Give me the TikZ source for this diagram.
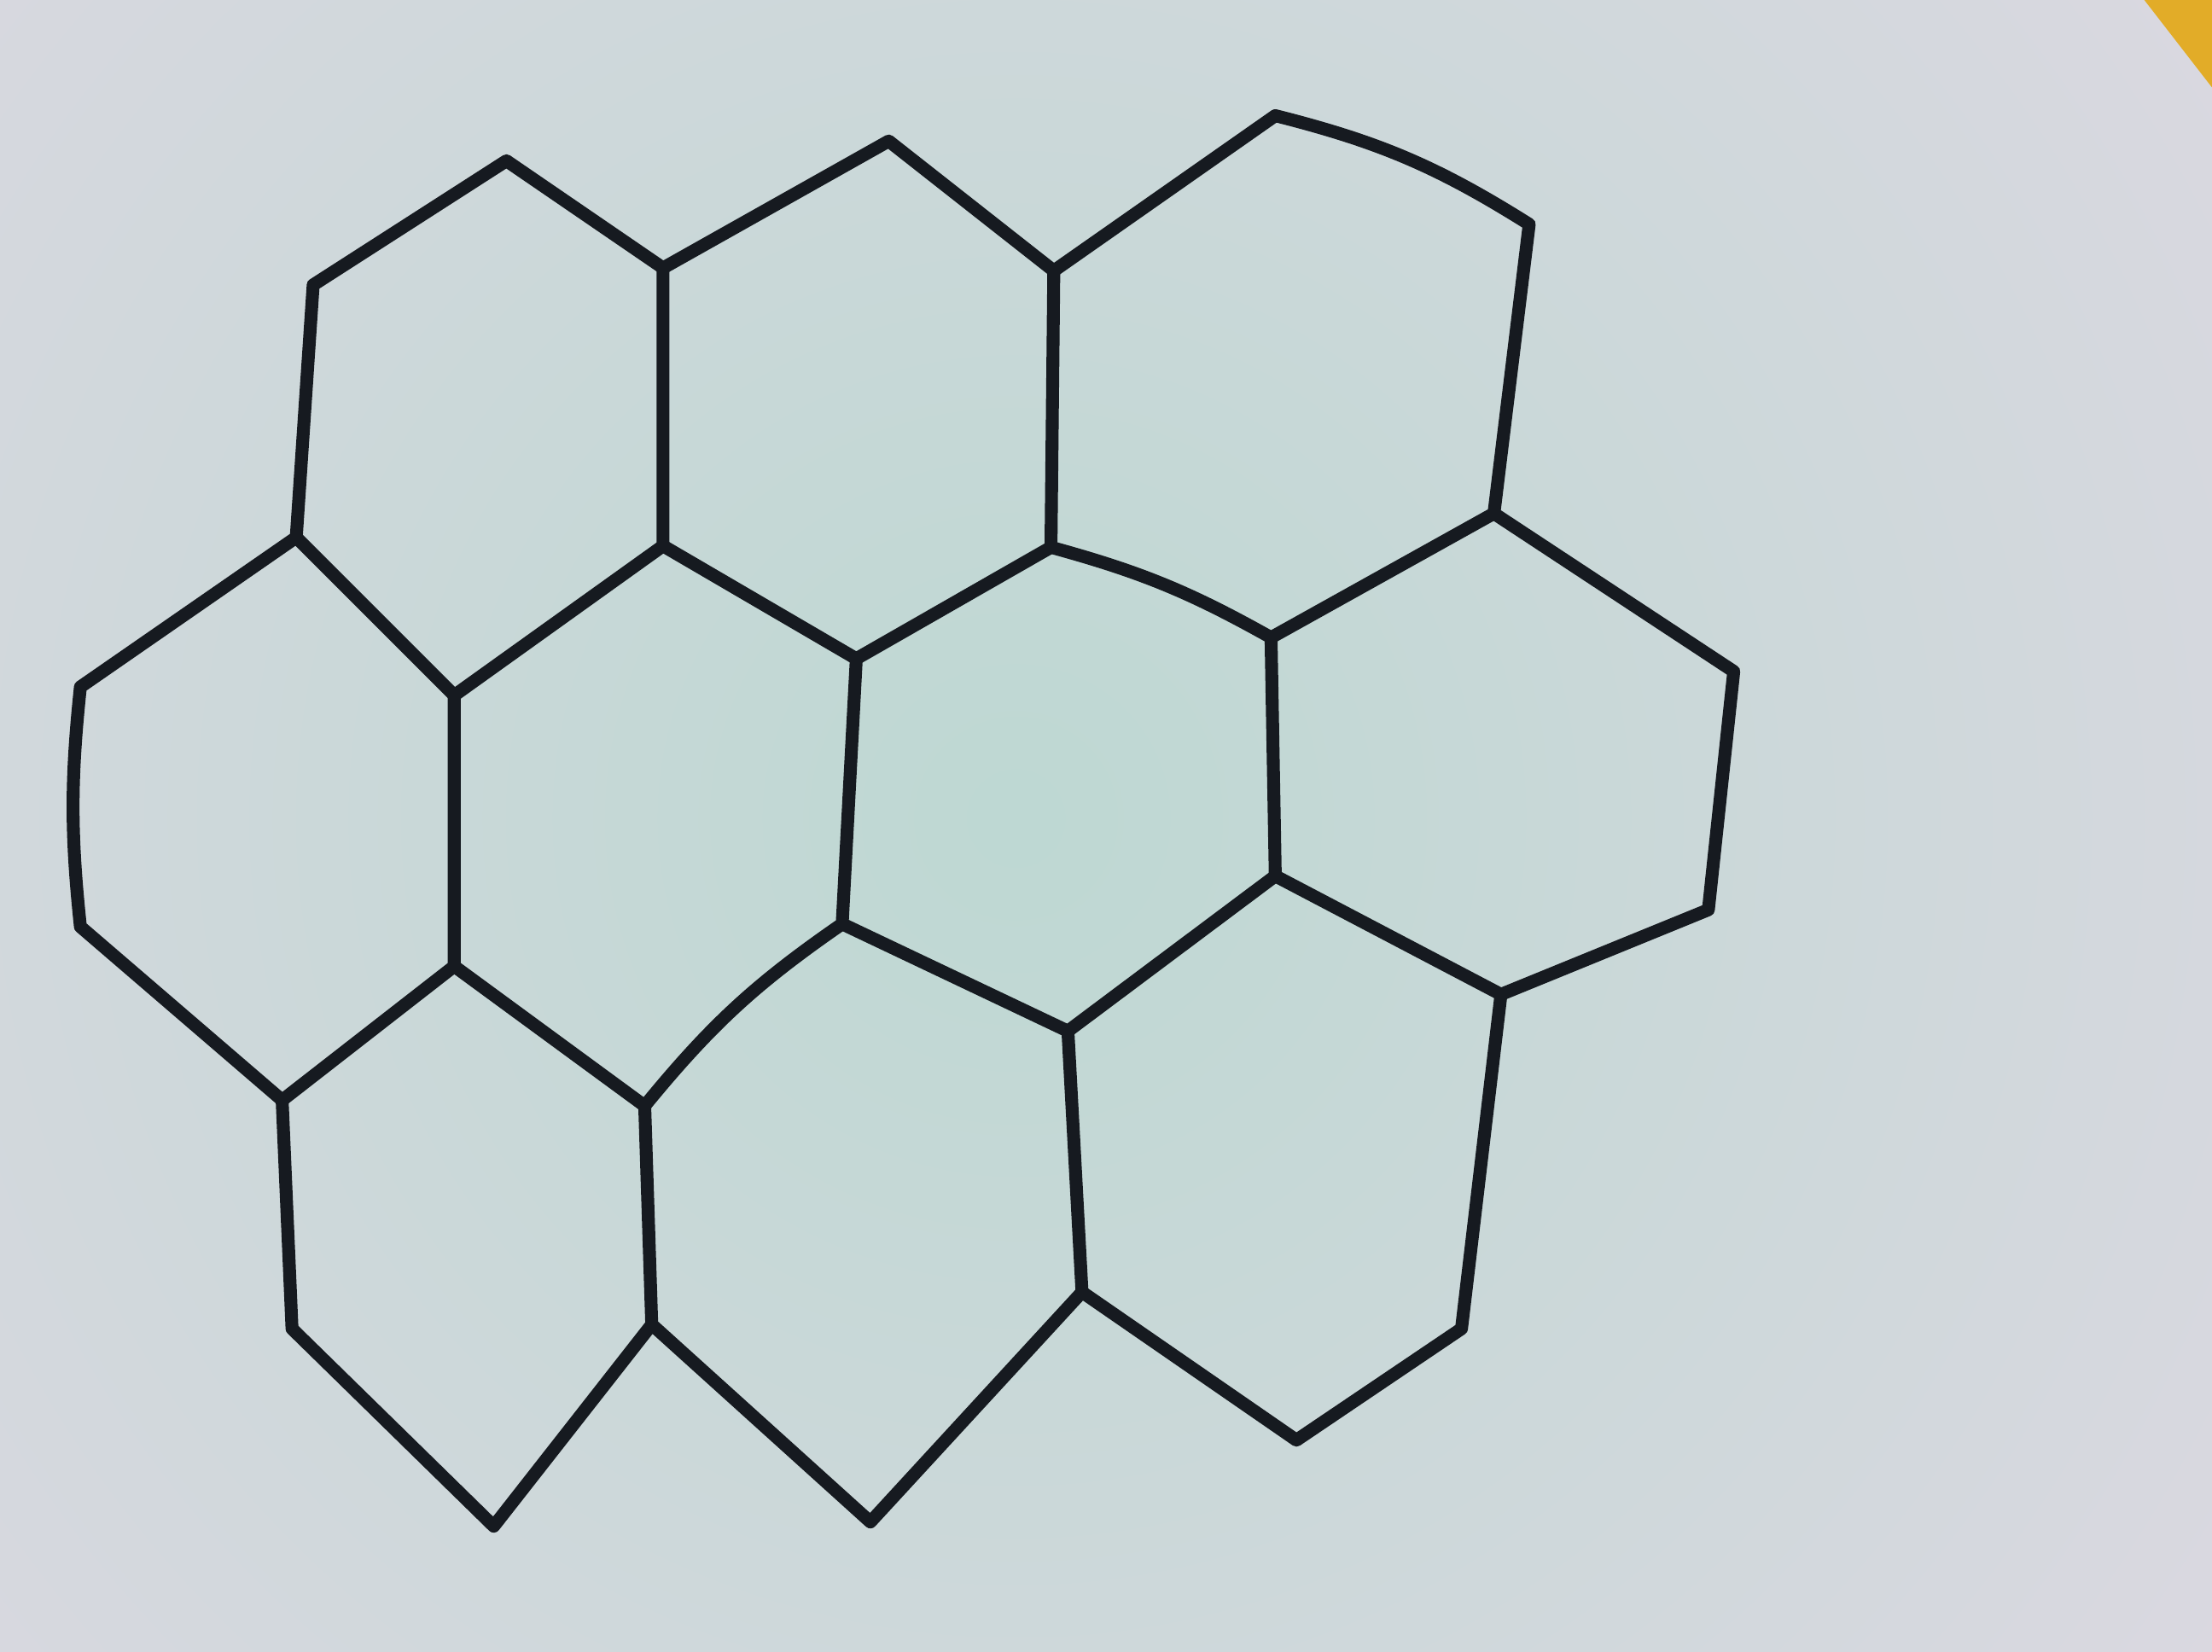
\documentclass[tikz,border=0pt]{standalone}
\usetikzlibrary{fadings}
\tikzfading[name=softglow, inner color=transparent!0, outer color=transparent!100]
\definecolor{paper}{RGB}{219,217,225}
\definecolor{tint}{RGB}{190,216,211}
\definecolor{ink}{RGB}{22,26,32}
\definecolor{tape}{RGB}{226,172,40}
\begin{document}
\begin{tikzpicture}[x=0.01cm,y=-0.01cm,
  edge/.style={draw=ink,line width=2.6pt,line join=round,line cap=round}]
\useasboundingbox (0,0) rectangle (1568,1171);
\fill[paper] (0,0) rectangle (1568,1171);
\begin{scope}
  \clip (0,0) rectangle (1568,1171);
  \fill[tint, path fading=softglow] (720,580) circle (1050);
  \fill[tape] (1520,0) -- (1568,0) -- (1568,62) -- cycle;
\end{scope}
% vertices
\coordinate (a1) at (359,114);
\coordinate (a2) at (222,202);
\coordinate (v1) at (470,190);
\coordinate (b1) at (630,100);
\coordinate (v2) at (747,192);
\coordinate (c1) at (904,82);
\coordinate (c2) at (1084,159);
\coordinate (v3) at (1059,364);
\coordinate (v4) at (901,452);
\coordinate (v5) at (745,388);
\coordinate (v6) at (607,467);
\coordinate (v7) at (470,387);
\coordinate (v8) at (322,493);
\coordinate (v9) at (210,381);
\coordinate (d1) at (57,487);
\coordinate (d2) at (57,657);
\coordinate (v10) at (200,780);
\coordinate (v11) at (322,685);
\coordinate (e3) at (597,655);
\coordinate (e4) at (457,784);
\coordinate (f3) at (904,621);
\coordinate (f4) at (757,731);
\coordinate (g2) at (1229,476);
\coordinate (g3) at (1211,645);
\coordinate (g4) at (1064,705);
\coordinate (h3) at (462,939);
\coordinate (h4) at (350,1082);
\coordinate (h5) at (207,942);
\coordinate (i3) at (767,916);
\coordinate (i4) at (617,1079);
\coordinate (j3) at (1036,942);
\coordinate (j4) at (919,1021);
% top row
\draw[edge] (v9) -- (a2) -- (a1) -- (v1) -- (b1) -- (v2) -- (c1) to[bend left=9] (c2) -- (v3) -- (v4);
\draw[edge] (v1) -- (v7) -- (v8) -- (v9);
\draw[edge] (v2) -- (v5) -- (v6) -- (v7);
\draw[edge] (v5) to[bend left=7] (v4);
% middle row
\draw[edge] (v9) -- (d1) to[bend right=6] (d2) -- (v10) -- (v11) -- (v8);
\draw[edge] (v11) -- (e4) to[bend left=8] (e3) -- (v6);
\draw[edge] (e3) -- (f4) -- (f3) -- (v4);
\draw[edge] (v3) -- (g2) -- (g3) -- (g4) -- (f3);
% bottom row
\draw[edge] (v10) -- (h5) -- (h4) -- (h3) -- (e4);
\draw[edge] (h3) -- (i4) -- (i3) -- (f4);
\draw[edge] (i3) -- (j4) -- (j3) -- (g4);
\end{tikzpicture}
\end{document}
